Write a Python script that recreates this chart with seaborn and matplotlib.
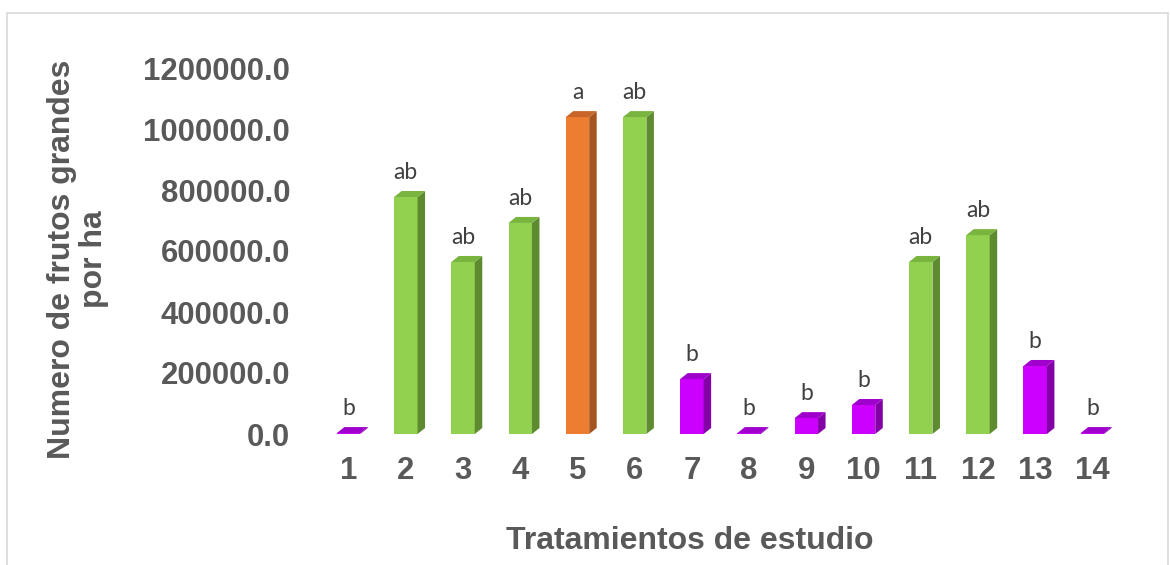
import numpy as np
import matplotlib
matplotlib.use("Agg")
import matplotlib.pyplot as plt
from matplotlib.patches import Polygon, Rectangle
from matplotlib.ticker import FuncFormatter, MultipleLocator
import pandas as pd
import seaborn as sns

sns.set_theme(style="white")
plt.rcParams['font.family'] = ['Liberation Sans', 'DejaVu Sans']

# datos
tratamientos = [str(i) for i in range(1, 15)]
frutos = [3000, 777000, 564000, 692000, 1039000, 1039000, 180000,
          3000, 52000, 95000, 564000, 652000, 223000, 3000]
letras = ["b", "ab", "ab", "ab", "a", "ab", "b",
          "b", "b", "b", "ab", "ab", "b", "b"]
grupo = ["p", "g", "g", "g", "o", "g", "p",
         "p", "p", "p", "g", "g", "p", "p"]

# (frente, lado, arriba)
colores = {
    "g": ("#92D050", "#5F8B30", "#79B43F"),
    "o": ("#ED7D31", "#A65420", "#C8662A"),
    "p": ("#CC00FF", "#8200A6", "#A000CC"),
}

df = pd.DataFrame({"tratamiento": tratamientos, "frutos": frutos})
palette = {t: colores[g][0] for t, g in zip(tratamientos, grupo)}

W, H = 1170, 565
fig = plt.figure(figsize=(W / 100, H / 100), dpi=100)
ax_l, ax_r, ax_b, ax_t = 320, 1121, 434, 68
ax = fig.add_axes([ax_l / W, 1 - ax_b / H, (ax_r - ax_l) / W, (ax_b - ax_t) / H])

sns.barplot(data=df, x="tratamiento", y="frutos", hue="tratamiento",
            palette=palette, width=0.41, saturation=1, legend=False,
            linewidth=0, ax=ax)

ymax = 1200000
ax.set_xlim(-0.5, 13.5)
ax.set_ylim(0, ymax)

# profundidad del efecto 3D (en pixeles -> datos)
dx = 7.5 * 14 / (ax_r - ax_l)
dy = 6.0 * ymax / (ax_b - ax_t)

for patch, g, letra in zip(ax.patches, grupo, letras):
    x0 = patch.get_x()
    x1 = x0 + patch.get_width()
    h = patch.get_height()
    front, side, top = colores[g]
    ax.add_patch(Polygon([(x1, 0), (x1 + dx, dy), (x1 + dx, h + dy), (x1, h)],
                         closed=True, facecolor=side, edgecolor="none", clip_on=False))
    ax.add_patch(Polygon([(x0, h), (x0 + dx, h + dy), (x1 + dx, h + dy), (x1, h)],
                         closed=True, facecolor=top, edgecolor="none", clip_on=False))
    ax.annotate(letra, ((x0 + x1) / 2, h), xytext=(0, 13), textcoords="offset points",
                ha="center", va="baseline", fontsize=16.5, color="#404040",
                family=["Lato", "DejaVu Sans"])

ax.yaxis.set_major_locator(MultipleLocator(200000))
ax.yaxis.set_major_formatter(FuncFormatter(lambda v, p: "{:.1f}".format(v)))
ax.tick_params(axis="x", length=0, pad=16, labelsize=22.4, labelcolor="#595959")
ax.tick_params(axis="y", length=0, pad=21.6, labelsize=22.4, labelcolor="#595959")
for lab in ax.get_xticklabels() + ax.get_yticklabels():
    lab.set_fontweight("bold")
ax.set_xlabel("")
ax.set_ylabel("")
for s in ax.spines.values():
    s.set_visible(False)
ax.grid(False)

fig.text(690 / W, 1 - 541 / H, "Tratamientos de estudio", ha="center", va="center",
         fontsize=23, fontweight="bold", color="#595959")
fig.text(78 / W, 1 - 259 / H, "Numero de frutos grandes\npor ha", ha="center", va="center",
         rotation=90, multialignment="center", fontsize=23, fontweight="bold",
         color="#595959", linespacing=1.05)

# marco del area del grafico
fig.patches.append(Rectangle((7 / W, -0.1), (1168 - 7) / W, 1.1 - 13 / H,
                             transform=fig.transFigure, fill=False,
                             edgecolor="#D9D9D9", linewidth=1.2))

fig.savefig("out.png", dpi=100)
